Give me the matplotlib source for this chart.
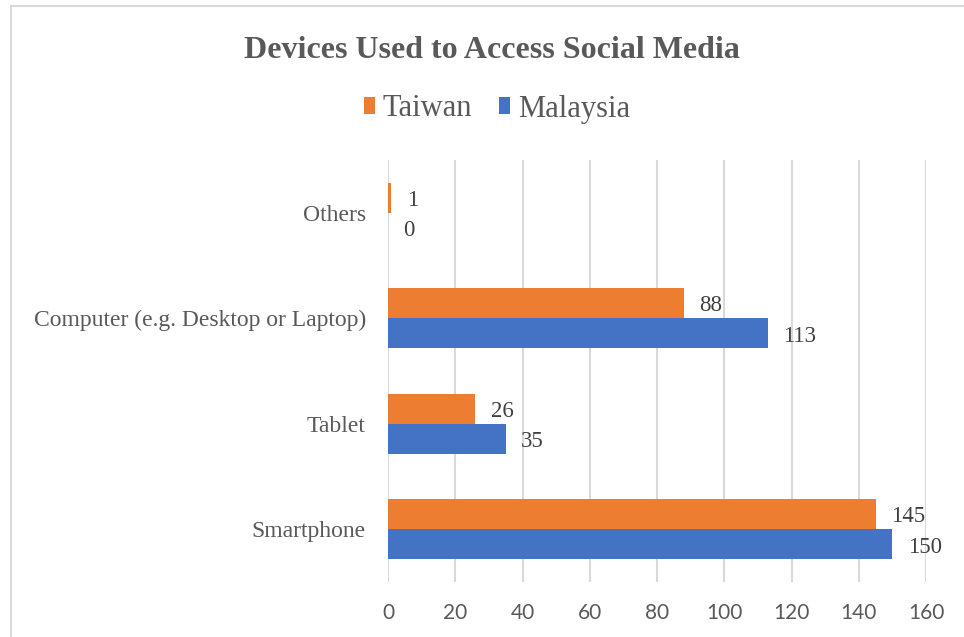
import numpy as np
import matplotlib.pyplot as plt
from matplotlib.patches import Rectangle

categories = ['Smartphone', 'Tablet', 'Computer (e.g. Desktop or Laptop)', 'Others']
taiwan = [145, 26, 88, 1]
malaysia = [150, 35, 113, 0]
xticks = [0, 20, 40, 60, 80, 100, 120, 140, 160]

orange = '#ED7D31'
blue = '#4472C4'
grey_text = '#595959'
grid_col = '#d9d9d9'

W, H = 964, 637
fig = plt.figure(figsize=(W / 100, H / 100), dpi=100)
ax = fig.add_axes([388 / W, 1 - 582 / H, (926 - 388) / W, (582 - 160) / H])

y = np.arange(len(categories))
bh = 0.285
ax.barh(y + bh / 2, taiwan, height=bh, color=orange, label='Taiwan', zorder=3)
ax.barh(y - bh / 2, malaysia, height=bh, color=blue, label='Malaysia', zorder=3)

# value labels just past the end of each bar
for yi, t, m in zip(y, taiwan, malaysia):
    ax.annotate(str(t), (t, yi + bh / 2), xytext=(11, -2), textcoords='offset points',
                va='center', ha='left', family='Liberation Serif', fontsize=16.5, color='#404040')
    ax.annotate(str(m), (m, yi - bh / 2), xytext=(11, -2), textcoords='offset points',
                va='center', ha='left', family='Liberation Serif', fontsize=16.5, color='#404040')

ax.set_xlim(0, 160)
ax.set_ylim(-0.5, len(categories) - 0.5)
ax.set_xticks(xticks)
ax.set_yticks(y)
ax.set_yticklabels(categories, family='Liberation Serif', fontsize=17, color=grey_text)
ax.set_xticklabels([str(v) for v in xticks], family='Lato', fontsize=15, color=grey_text)
ax.tick_params(length=0)
ax.tick_params(axis='x', pad=15)
ax.tick_params(axis='y', pad=16)
ax.grid(axis='x', color=grid_col, linewidth=1.5, zorder=0)
for s in ax.spines.values():
    s.set_visible(False)

fig.text(492 / W, 1 - 50 / H, 'Devices Used to Access Social Media', ha='center', va='center',
         family='Liberation Serif', fontweight='bold', fontsize=23, color=grey_text)

handles, labels = ax.get_legend_handles_labels()
fig.legend(handles, labels, loc='center', bbox_to_anchor=(497 / W, 1 - 109 / H), ncol=2,
           frameon=False, prop={'family': 'Liberation Serif', 'size': 22},
           labelcolor=grey_text, handlelength=0.35, handleheight=0.5, handletextpad=0.25,
           columnspacing=0.9)

# outer chart border
fig.patches.append(Rectangle((11 / W, -0.1), 1.2, 1 - 6 / H + 0.1, transform=fig.transFigure,
                             fill=False, edgecolor=grid_col, linewidth=1.5))

fig.savefig('out.png', dpi=100)
